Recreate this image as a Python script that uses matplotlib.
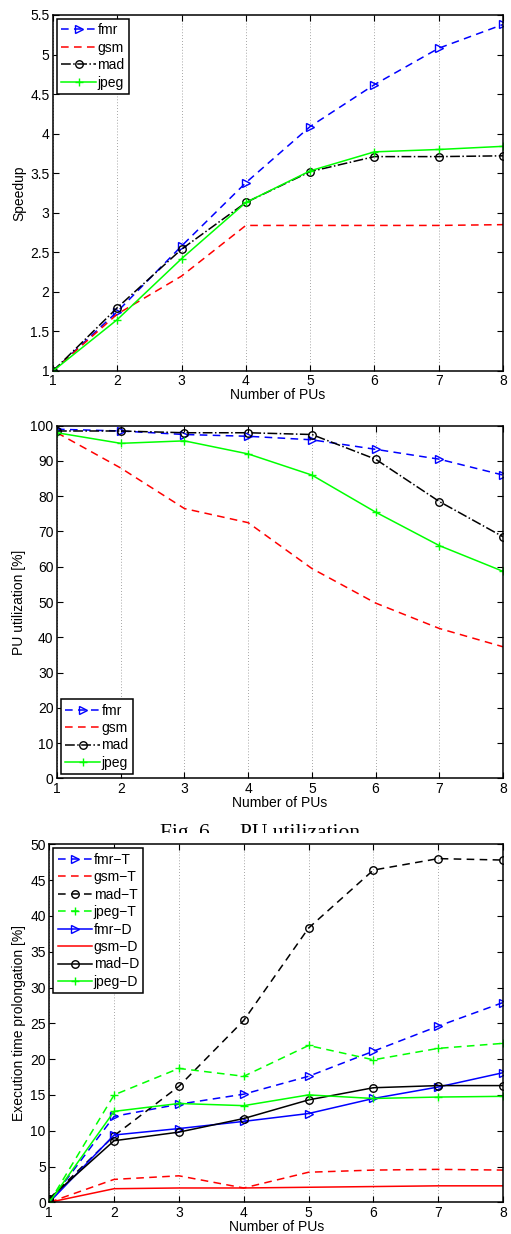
import matplotlib
matplotlib.use("Agg")
import matplotlib.pyplot as plt
from matplotlib.transforms import Bbox, TransformedBbox

plt.rcParams['font.family'] = ['Liberation Sans', 'DejaVu Sans']

pus = [1, 2, 3, 4, 5, 6, 7, 8]

# Panel 1: speedup
speed_fmr = [1.0, 1.75, 2.58, 3.38, 4.09, 4.62, 5.08, 5.38]
speed_gsm = [1.0, 1.72, 2.20, 2.84, 2.84, 2.84, 2.84, 2.85]
speed_mad = [1.0, 1.80, 2.54, 3.13, 3.52, 3.71, 3.71, 3.72]
speed_jpeg = [1.0, 1.65, 2.42, 3.13, 3.53, 3.77, 3.80, 3.84]

# Panel 2: PU utilization [%]
util_fmr = [99.0, 98.5, 97.5, 97.0, 96.0, 93.3, 90.5, 86.0]
util_gsm = [98.0, 88.0, 76.5, 72.5, 59.5, 49.7, 42.5, 37.3]
util_mad = [98.5, 98.5, 98.0, 98.0, 97.5, 90.5, 78.5, 68.5]
util_jpeg = [98.0, 95.0, 95.7, 92.0, 86.0, 75.5, 66.0, 58.7]

# Panel 3: execution time prolongation [%]
fmr_T = [0.0, 12.0, 13.7, 15.1, 17.6, 21.1, 24.6, 27.9]
gsm_T = [0.0, 3.2, 3.7, 2.0, 4.2, 4.5, 4.6, 4.5]
mad_T = [0.5, 9.3, 16.2, 25.4, 38.3, 46.4, 48.0, 47.8]
jpeg_T = [0.0, 15.0, 18.7, 17.6, 21.9, 19.9, 21.5, 22.2]
fmr_D = [0.0, 9.4, 10.3, 11.3, 12.4, 14.5, 16.1, 18.1]
gsm_D = [0.0, 1.9, 2.0, 2.0, 2.1, 2.2, 2.3, 2.3]
mad_D = [0.5, 8.6, 9.8, 11.7, 14.3, 16.0, 16.3, 16.3]
jpeg_D = [0.0, 12.7, 13.8, 13.5, 15.0, 14.5, 14.7, 14.8]

speed_ticks = [1, 1.5, 2, 2.5, 3, 3.5, 4, 4.5, 5, 5.5]
speed_ticklabels = ['1', '1.5', '2', '2.5', '3', '3.5', '4', '4.5', '5', '5.5']

BLUE = '#0000ff'
RED = '#ff0000'
BLACK = '#000000'
GREEN = '#00ff00'

W, H = 511, 1234
fig = plt.figure(figsize=(W / 100, H / 100), dpi=100)

def ax_px(left, right, top, bottom):
    return fig.add_axes([left / W, 1 - bottom / H, (right - left) / W, (bottom - top) / H])

FS = 10
LW = 1.1
MS = 5.4
DASH = (0, (5, 3.5))

def style(ax, ylim, ylabel):
    ax.set_xlim(1, 8)
    ax.set_ylim(*ylim)
    ax.set_xticks(pus)
    ax.tick_params(direction='in', top=True, right=True, length=4, width=0.8,
                   labelsize=FS, pad=2.5)
    ax.xaxis.grid(True, linestyle=(0, (1, 2.5)), color='#888888', linewidth=0.6)
    ax.set_axisbelow(True)
    for s in ax.spines.values():
        s.set_linewidth(1.1)
    ax.set_xlabel('Number of PUs', fontsize=FS, labelpad=0)
    ax.set_ylabel(ylabel, fontsize=FS, labelpad=3)

def legend(ax, loc, anchor):
    lg = ax.legend(loc=loc, bbox_to_anchor=anchor, fontsize=FS, frameon=True,
                   fancybox=False, framealpha=1, edgecolor='black',
                   handlelength=2.5, handletextpad=0.1, borderpad=0.3,
                   labelspacing=0.25, borderaxespad=0.3)
    lg.get_frame().set_linewidth(1.1)

# ---- Panel 1 ----
ax1 = ax_px(53, 503, 15, 371)
ax1.plot(pus, speed_fmr, linestyle=DASH, color=BLUE, lw=LW, marker='>',
         mfc='none', mec=BLUE, ms=MS, label='fmr')
ax1.plot(pus, speed_gsm, linestyle=DASH, color=RED, lw=LW, label='gsm')
ax1.plot(pus, speed_mad, linestyle='-.', color=BLACK, lw=LW, marker='o',
         mfc='none', mec=BLACK, ms=MS, label='mad')
ax1.plot(pus, speed_jpeg, linestyle='-', color=GREEN, lw=LW, marker='+',
         mec=GREEN, ms=MS, label='jpeg')
style(ax1, (1, 5.5), 'Speedup')
ax1.set_yticks(speed_ticks)
ax1.set_yticklabels(speed_ticklabels)
legend(ax1, 'upper left', (0.0, 1.0))

# ---- Panel 2 ----
ax2 = ax_px(57, 503, 425.7, 778.3)
ax2.plot(pus, util_fmr, linestyle=DASH, color=BLUE, lw=LW, marker='>',
         mfc='none', mec=BLUE, ms=MS, label='fmr')
ax2.plot(pus, util_gsm, linestyle=DASH, color=RED, lw=LW, label='gsm')
ax2.plot(pus, util_mad, linestyle='-.', color=BLACK, lw=LW, marker='o',
         mfc='none', mec=BLACK, ms=MS, label='mad')
ax2.plot(pus, util_jpeg, linestyle='-', color=GREEN, lw=LW, marker='+',
         mec=GREEN, ms=MS, label='jpeg')
style(ax2, (0, 100), 'PU utilization [%]')
ax2.set_yticks(range(0, 101, 10))
legend(ax2, 'lower left', (0.0, 0.0))

# ---- Caption (partially hidden, clipped at the bottom) ----
clip = TransformedBbox(Bbox([[0, 1 - 833 / H], [1, 1]]), fig.transFigure)
for xpos, txt in [(160, 'Fig. 6.'), (240, 'PU utilization')]:
    t = fig.text(xpos / W, 1 - 838 / H, txt, fontsize=15.5, family='Liberation Serif',
                 va='baseline', ha='left')
    t.set_clip_box(clip)
    t.set_clip_on(True)

# ---- Panel 3 ----
ax3 = ax_px(49.3, 503, 844.3, 1202.3)
ax3.plot(pus, fmr_T, linestyle=DASH, color=BLUE, lw=LW, marker='>', mfc='none', mec=BLUE, ms=MS, label='fmr\u2212T')
ax3.plot(pus, gsm_T, linestyle=DASH, color=RED, lw=LW, label='gsm\u2212T')
ax3.plot(pus, mad_T, linestyle=DASH, color=BLACK, lw=LW, marker='o', mfc='none', mec=BLACK, ms=MS, label='mad\u2212T')
ax3.plot(pus, jpeg_T, linestyle=DASH, color=GREEN, lw=LW, marker='+', mec=GREEN, ms=MS, label='jpeg\u2212T')
ax3.plot(pus, fmr_D, linestyle='-', color=BLUE, lw=LW, marker='>', mfc='none', mec=BLUE, ms=MS, label='fmr\u2212D')
ax3.plot(pus, gsm_D, linestyle='-', color=RED, lw=LW, label='gsm\u2212D')
ax3.plot(pus, mad_D, linestyle='-', color=BLACK, lw=LW, marker='o', mfc='none', mec=BLACK, ms=MS, label='mad\u2212D')
ax3.plot(pus, jpeg_D, linestyle='-', color=GREEN, lw=LW, marker='+', mec=GREEN, ms=MS, label='jpeg\u2212D')
style(ax3, (0, 50), 'Execution time prolongation [%]')
ax3.set_yticks(range(0, 51, 5))
legend(ax3, 'upper left', (0.0, 1.0))

fig.savefig('out.png', dpi=100)
